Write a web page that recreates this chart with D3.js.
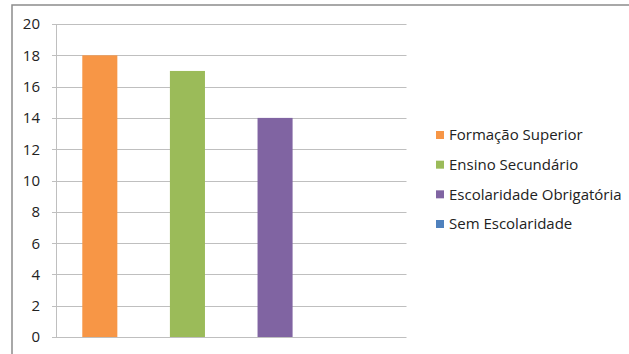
<!DOCTYPE html>
<html><head><meta charset="utf-8">
<script src="https://cdn.jsdelivr.net/npm/d3@7"></script>
<style>body{margin:0;background:#fff;}svg{display:block;}</style>
</head><body>
<script>
const categories = ["Formação Superior","Ensino Secundário","Escolaridade Obrigatória","Sem Escolaridade"];
const values = [18, 17, 14, 0];
const colors = ["#F79646","#9BBB59","#8064A2","#4F81BD"];
const yTicks = [0,2,4,6,8,10,12,14,16,18,20];

(function(){
const W = 629, H = 354;
const svg = d3.select("body").append("svg").attr("width", W).attr("height", H);
svg.append("rect").attr("width", W).attr("height", H).attr("fill", "#fff");
svg.append("rect").attr("x", 12).attr("y", 5).attr("width", 640).attr("height", 400)
  .attr("fill", "none").attr("stroke", "#8c8c8c").attr("stroke-width", 1.5);

const pL = 56, pR = 406.5, pT = 24, pB = 337;
const x = d3.scaleBand().domain(categories).range([pL, pR]).paddingInner(0.6).paddingOuter(0.3);
const y = d3.scaleLinear().domain([0, 20]).range([pB, pT]);

const g = svg.append("g");
g.selectAll("line.grid").data(yTicks).join("line")
  .attr("x1", pL - 4).attr("x2", pR).attr("y1", d => Math.round(y(d)) + 0.5).attr("y2", d => Math.round(y(d)) + 0.5)
  .attr("stroke", "#bfbfbf").attr("stroke-width", 1);
g.append("line").attr("x1", pL + 0.5).attr("x2", pL + 0.5).attr("y1", pT).attr("y2", pB)
  .attr("stroke", "#bfbfbf");
g.selectAll("text.tick").data(yTicks).join("text")
  .attr("x", 40).attr("y", d => y(d)).attr("dy", "0.36em").attr("text-anchor", "end")
  .attr("font-family", "'Open Sans', Lato, sans-serif").attr("font-size", 15).attr("fill", "#222")
  .text(d => d);
g.selectAll("rect.bar").data(categories).join("rect")
  .attr("x", d => x(d)).attr("width", x.bandwidth())
  .attr("y", (d, i) => y(values[i])).attr("height", (d, i) => y(0) - y(values[i]))
  .attr("fill", (d, i) => colors[i]);

const leg = svg.append("g");
const ly = d3.scalePoint().domain(categories).range([135, 224]);
categories.forEach((c, i) => {
  leg.append("rect").attr("x", 436).attr("y", ly(c) - 4).attr("width", 8).attr("height", 8).attr("fill", colors[i]);
  leg.append("text").attr("x", 449).attr("y", ly(c)).attr("dy", "0.36em")
    .attr("font-family", "'Open Sans', Lato, sans-serif").attr("font-size", 15).attr("fill", "#222").text(c);
});
})();
</script>
</body></html>
